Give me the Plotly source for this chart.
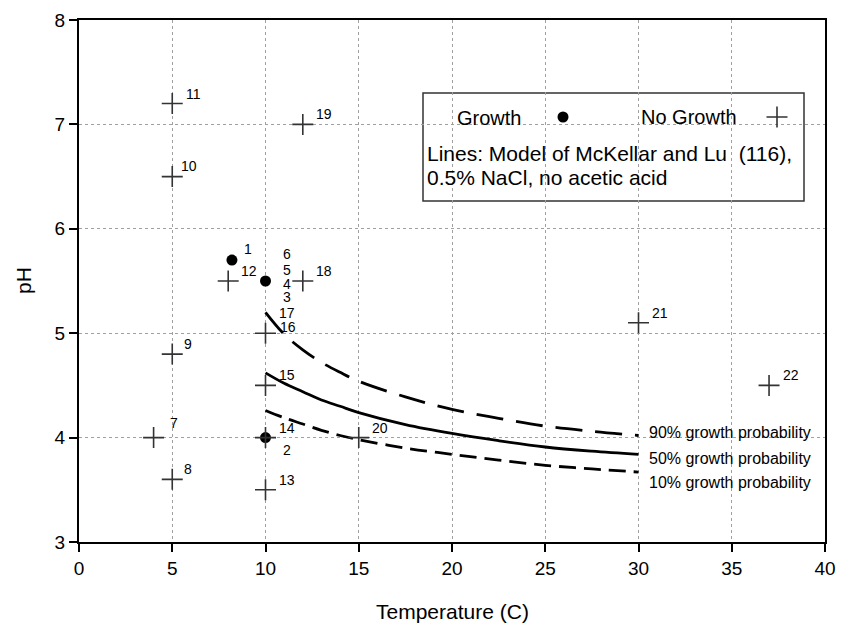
import plotly.graph_objects as go

# ---- data ----
growth_t = [8.2, 10, 10]
growth_ph = [5.7, 5.5, 4.0]

nogrowth_t = [5, 5, 8, 12, 12, 10, 5, 10, 4, 5, 10, 15, 30, 37, 10]
nogrowth_ph = [7.2, 6.5, 5.5, 7.0, 5.5, 5.0, 4.8, 4.5, 4.0, 3.6, 3.5, 4.0, 5.1, 4.5, 4.0]

label_text = ["1", "6", "5", "4", "3", "17", "16", "15", "14", "2", "13", "20",
              "12", "18", "19", "11", "10", "9", "7", "8", "21", "22"]
label_t = [8.2, 10, 10, 10, 10, 10, 10, 10, 10, 10, 10, 15,
           8, 12, 12, 5, 5, 5, 4, 5, 30, 37]
label_ph = [5.7, 5.5, 5.5, 5.5, 5.5, 5.0, 5.0, 4.5, 4.0, 4.0, 3.5, 4.0,
            5.5, 5.5, 7.0, 7.2, 6.5, 4.8, 4.0, 3.6, 5.1, 4.5]

curve_t = [10, 11, 12, 13, 14, 15, 17.5, 20, 22.5, 25, 27.5, 30]
p90_ph = [5.20, 4.99, 4.84, 4.72, 4.625, 4.54, 4.39, 4.27, 4.185, 4.11, 4.06, 4.02]
p50_ph = [4.62, 4.52, 4.44, 4.36, 4.30, 4.24, 4.125, 4.04, 3.97, 3.91, 3.87, 3.84]
p10_ph = [4.26, 4.19, 4.13, 4.07, 4.02, 3.98, 3.90, 3.84, 3.785, 3.735, 3.70, 3.67]

curve_labels = ["90% growth probability", "50% growth probability", "10% growth probability"]
curve_label_ph = [4.05, 3.80, 3.57]

x_ticks = [0, 5, 10, 15, 20, 25, 30, 35, 40]
y_ticks = [3, 4, 5, 6, 7, 8]

# ---- label offsets (pixels) ----
label_shift = {"1": (16, 11), "6": (21, 27), "5": (21, 11), "4": (21, -3), "3": (21, -16),
               "17": (21, 20), "16": (22, 6), "2": (21, -12), "10": (17, 11),
               "9": (16, 10), "7": (20, 15), "8": (16, 10), "22": (22, 10)}

FONT = "Liberation Sans, Arial, sans-serif"
W, H = 841, 632
L, T = 79, 20
R = W - 825
B = H - 542
PW, PH = W - L - R, H - T - B


def px(x, y):
    return dict(xref="paper", yref="paper", x=(x - L) / PW, y=1 - (y - T) / PH)


fig = go.Figure()

fig.add_trace(go.Scatter(x=curve_t, y=p90_ph, mode="lines", line_shape="spline",
                         line=dict(color="black", width=2.8, dash="27px,13px"), showlegend=False))
fig.add_trace(go.Scatter(x=curve_t, y=p50_ph, mode="lines", line_shape="spline",
                         line=dict(color="black", width=2.8), showlegend=False))
fig.add_trace(go.Scatter(x=curve_t, y=p10_ph, mode="lines", line_shape="spline",
                         line=dict(color="black", width=2.8, dash="17px,8px"), showlegend=False))

fig.add_trace(go.Scatter(x=growth_t, y=growth_ph, mode="markers",
                         marker=dict(symbol="circle", size=11, color="black"), showlegend=False))
fig.add_trace(go.Scatter(x=nogrowth_t, y=nogrowth_ph, mode="markers",
                         marker=dict(symbol="cross-thin", size=15,
                                     line=dict(color="#333333", width=1.6)), showlegend=False))

for txt, t, ph in zip(label_text, label_t, label_ph):
    dx, dy = label_shift.get(txt, (21, 10))
    fig.add_annotation(x=t, y=ph, text=txt, showarrow=False, xshift=dx, yshift=dy,
                       xanchor="center", yanchor="middle",
                       font=dict(family=FONT, size=14, color="black"))

for txt, ph in zip(curve_labels, curve_label_ph):
    fig.add_annotation(x=30, y=ph, text=txt, showarrow=False, xanchor="left", yanchor="middle",
                       xshift=8, font=dict(family=FONT, size=16, color="black"))

# legend box
b0 = px(423, 201)
b1 = px(804, 93)
fig.add_shape(type="rect", xref="paper", yref="paper",
              x0=b0["x"], x1=b1["x"], y0=b0["y"], y1=b1["y"],
              line=dict(color="#333333", width=1.5), fillcolor="white", layer="between")


def note(x, y, text, size, xanchor="center", angle=0):
    fig.add_annotation(**px(x, y), text=text, showarrow=False, xanchor=xanchor,
                       yanchor="middle", textangle=angle,
                       font=dict(family=FONT, size=size, color="black"))


note(489, 118, "Growth", 20)
note(689, 117, "No Growth", 20)
note(425, 154, "Lines: Model of McKellar and Lu  (116),", 21, xanchor="left")
note(425, 177, "0.5% NaCl, no acetic acid", 21, xanchor="left")

m1 = px(563, 117)
m2 = px(777, 117)
fig.add_trace(go.Scatter(x=[m1["x"]], y=[m1["y"]], xaxis="x2", yaxis="y2",
                         mode="markers", marker=dict(symbol="circle", size=11, color="black"),
                         showlegend=False, hoverinfo="skip"))
fig.add_trace(go.Scatter(x=[m2["x"]], y=[m2["y"]], xaxis="x2", yaxis="y2",
                         mode="markers", marker=dict(symbol="cross-thin", size=15,
                                                     line=dict(color="#333333", width=1.6)),
                         showlegend=False, hoverinfo="skip"))

# axis titles
note(23, 281, "pH", 21, angle=-90)
note(452, 611, "Temperature (C)", 21)

axis_common = dict(showline=True, linecolor="black", linewidth=2, mirror=True,
                   ticks="outside", ticklen=8, tickwidth=1.5, tickcolor="black",
                   showgrid=True, gridcolor="#a0a0a0", griddash="dot", gridwidth=1,
                   zeroline=False, automargin=False,
                   tickfont=dict(family=FONT, size=19, color="black"))

fig.update_layout(
    width=W, height=H,
    margin=dict(l=L, r=R, t=T, b=B, autoexpand=False),
    plot_bgcolor="white", paper_bgcolor="white",
    xaxis=dict(range=[0, 40], tickvals=x_ticks, **axis_common),
    yaxis=dict(range=[3, 8], tickvals=y_ticks, **axis_common),
    xaxis2=dict(range=[0, 1], overlaying="x", visible=False),
    yaxis2=dict(range=[0, 1], overlaying="y", visible=False),
    showlegend=False,
)

fig.write_html("out.html", config={"displayModeBar": False},
               post_script="document.body.style.margin='0';document.body.style.overflow='hidden';")
